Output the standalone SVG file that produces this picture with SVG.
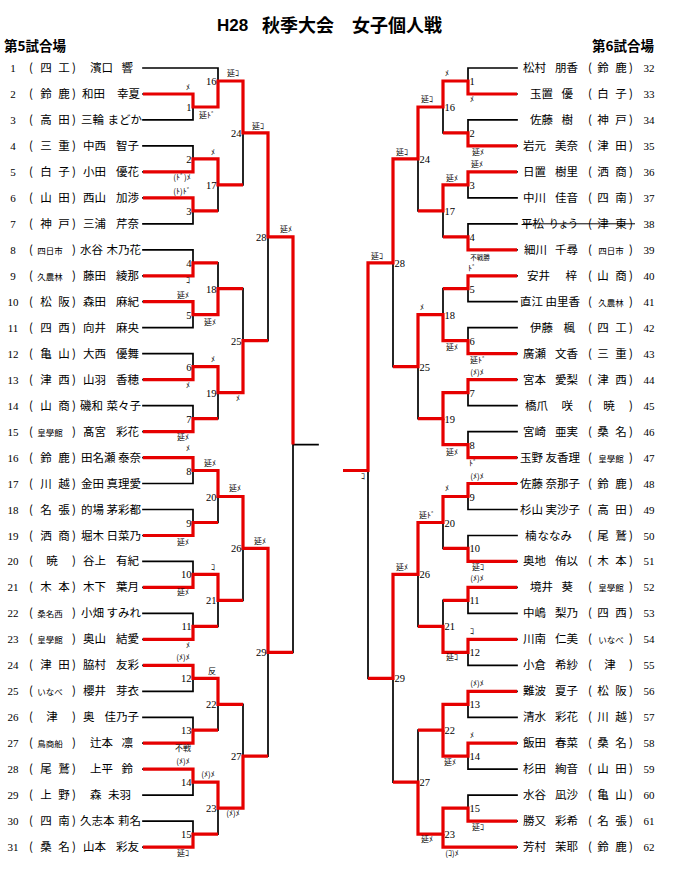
<svg xmlns="http://www.w3.org/2000/svg" width="677" height="879" viewBox="0 0 677 879">
<style>
text{font-family:"Noto Sans CJK JP","Noto Sans CJK SC",sans-serif;font-size:11.5px;fill:#000}
.c{text-anchor:middle}
.e{text-anchor:end}
.d{font-family:"Liberation Serif",serif;font-size:11px}
.s3{font-size:8.5px}
.b{fill:none;stroke:#000;stroke-width:1.7;stroke-linecap:square}
.r{fill:none;stroke:#e60000;stroke-width:3.2;stroke-linejoin:miter}
.h{font-size:18px;font-weight:bold}
.v{font-size:13.5px;font-weight:bold}
#nums text{font-family:"Liberation Serif",serif;font-size:10.5px}
#notes text{font-size:8px;text-anchor:middle}
.strike{stroke:#000;stroke-width:1}
</style>
<rect width="677" height="879" fill="#fff"/>
<g id="title">
<text x="217" y="31" style="font-family:'Liberation Sans',sans-serif;font-size:17px;font-weight:bold">H28</text>
<text class="h" x="262" y="32">秋季大会</text>
<text class="h" x="352" y="32">女子個人戦</text>
<text class="v" x="4" y="51">第5試合場</text>
<text class="v" x="592" y="51">第6試合場</text>
</g>
<g id="connectors">
<path class="b" d="M143 68H218M143 94H193M143 119.9H193M143 145.9H193M143 171.9H193M143 197.9H193M143 223.8H193M143 249.8H193M143 275.8H193M143 301.7H193M143 327.7H193M143 353.7H193M143 379.6H193M143 405.6H193M143 431.6H193M143 457.6H193M143 483.5H193M143 509.5H193M143 535.5H193M143 561.4H193M143 587.4H193M143 613.4H193M143 639.3H193M143 665.3H193M143 691.3H193M143 717.3H193M143 743.2H193M143 769.2H193M143 795.2H193M143 821.1H193M143 847.1H193
M193 94V119.9M193 145.9V171.9M193 197.9V223.8M193 249.8V275.8M193 301.7V327.7M193 353.7V379.6M193 405.6V431.6M193 457.6V483.5M193 509.5V535.5M193 561.4V587.4M193 613.4V639.3M193 665.3V691.3M193 717.3V743.2M193 769.2V795.2M193 821.1V847.1
M218 68V107M218 158.9V210.8M218 262.8V314.7M218 366.7V418.6M218 470.5V522.5M218 574.4V626.4M218 678.3V730.2M218 782.2V834.1
M243 81V184.9M243 288.7V392.6M243 496.5V600.4M243 704.3V808.1
M268 132.9V340.7M268 548.4V756.2
M293 236.8V652.3M293 444.6H318"/>
<path class="b" d="M517 68H468M517 94H468M517 119.9H468M517 145.9H468M517 171.9H468M517 197.9H468M517 223.8H468M517 249.8H468M517 275.8H468M517 301.7H468M517 327.7H468M517 353.7H468M517 379.6H468M517 405.6H468M517 431.6H468M517 457.6H468M517 483.5H468M517 509.5H468M517 535.5H468M517 561.4H468M517 587.4H468M517 613.4H468M517 639.3H468M517 665.3H468M517 691.3H468M517 717.3H468M517 743.2H468M517 769.2H468M517 795.2H468M517 821.1H468M517 847.1H443
M468 68V94M468 119.9V145.9M468 171.9V197.9M468 223.8V249.8M468 275.8V301.7M468 327.7V353.7M468 379.6V405.6M468 431.6V457.6M468 483.5V509.5M468 535.5V561.4M468 587.4V613.4M468 639.3V665.3M468 691.3V717.3M468 743.2V769.2M468 795.2V821.1
M443 81V132.9M443 184.9V236.8M443 288.7V340.7M443 392.6V444.6M443 496.5V548.4M443 600.4V652.3M443 704.3V756.2M443 808.1V847.1
M418 107V210.8M418 314.7V418.6M418 522.5V626.4M418 730.2V834.1
M393 158.9V366.7M393 574.4V782.2
M368 262.8V678.3"/>
<path class="r" d="M143 94H193V107H218V81H243V132.9H268V236.8H293V444.6"/>
<path class="r" d="M143 171.9H193V158.9H218V184.9H243"/>
<path class="r" d="M143 197.9H193V210.8H218"/>
<path class="r" d="M143 275.8H193V262.8H218"/>
<path class="r" d="M143 301.7H193V314.7H218V288.7H243"/>
<path class="r" d="M143 379.6H193V366.7H218V392.6H243V340.7H268"/>
<path class="r" d="M143 431.6H193V418.6H218"/>
<path class="r" d="M143 457.6H193V470.5H218V496.5H243V548.4H268V652.3H293"/>
<path class="r" d="M143 535.5H193V522.5H218"/>
<path class="r" d="M143 587.4H193V574.4H218V600.4H243"/>
<path class="r" d="M143 639.3H193V626.4H218"/>
<path class="r" d="M143 665.3H193V678.3H218V704.3H243"/>
<path class="r" d="M143 743.2H193V730.2H218"/>
<path class="r" d="M143 769.2H193V782.2H218V808.1H243V756.2H268"/>
<path class="r" d="M143 847.1H193V834.1H218"/>
<path class="r" d="M517 94H468V81H443V107H418V158.9H393V262.8H368V470.5H343"/>
<path class="r" d="M517 145.9H468V132.9H443"/>
<path class="r" d="M517 171.9H468V184.9H443V210.8H418"/>
<path class="r" d="M517 249.8H468V236.8H443"/>
<path class="r" d="M517 275.8H468V288.7H443"/>
<path class="r" d="M517 353.7H468V340.7H443V314.7H418V366.7H393"/>
<path class="r" d="M517 379.6H468V392.6H443V418.6H418"/>
<path class="r" d="M517 457.6H468V444.6H443V418.6"/>
<path class="r" d="M517 483.5H468V496.5H443V522.5H418V574.4H393V678.3H368"/>
<path class="r" d="M517 561.4H468V548.4H443"/>
<path class="r" d="M517 587.4H468V600.4H443"/>
<path class="r" d="M517 639.3H468V652.3H443V626.4H418"/>
<path class="r" d="M517 691.3H468V704.3H443V730.2H418"/>
<path class="r" d="M517 743.2H468V756.2H443V730.2"/>
<path class="r" d="M517 821.1H468V808.1H443V834.1H418V782.2H393"/>
<path class="r" d="M517 847.1H443V834.1"/>
<line class="strike" x1="523" y1="223.8" x2="635" y2="223.8"/>
</g>
<g id="nums">
<text class="e" x="191.5" y="111">1</text><text class="e" x="191.5" y="163">2</text><text class="e" x="191.5" y="215">3</text><text class="e" x="191.5" y="267">4</text><text class="e" x="191.5" y="319">5</text><text class="e" x="191.5" y="371">6</text><text class="e" x="191.5" y="423">7</text><text class="e" x="191.5" y="474.5">8</text><text class="e" x="191.5" y="526.5">9</text><text class="e" x="191.5" y="578.4">10</text><text class="e" x="191.5" y="630.4">11</text><text class="e" x="191.5" y="682.3">12</text><text class="e" x="191.5" y="734.2">13</text><text class="e" x="191.5" y="786.2">14</text><text class="e" x="191.5" y="838.1">15</text>
<text class="e" x="216.5" y="85">16</text><text class="e" x="216.5" y="189">17</text><text class="e" x="216.5" y="292.7">18</text><text class="e" x="216.5" y="396.6">19</text><text class="e" x="216.5" y="500.5">20</text><text class="e" x="216.5" y="604.4">21</text><text class="e" x="216.5" y="708.3">22</text><text class="e" x="216.5" y="812.1">23</text>
<text class="e" x="241.5" y="137">24</text><text class="e" x="241.5" y="344.7">25</text><text class="e" x="241.5" y="552.4">26</text><text class="e" x="241.5" y="760.2">27</text>
<text class="e" x="266.5" y="240.8">28</text><text class="e" x="266.5" y="656.3">29</text>
<text x="469.5" y="85">1</text><text x="469.5" y="137">2</text><text x="469.5" y="189">3</text><text x="469.5" y="241">4</text><text x="469.5" y="293">5</text><text x="469.5" y="345">6</text><text x="469.5" y="397">7</text><text x="469.5" y="449">8</text><text x="469.5" y="500.5">9</text><text x="469.5" y="552.4">10</text><text x="469.5" y="604.4">11</text><text x="469.5" y="656.3">12</text><text x="469.5" y="708.3">13</text><text x="469.5" y="760.2">14</text><text x="469.5" y="812.1">15</text>
<text x="444.5" y="111">16</text><text x="444.5" y="215">17</text><text x="444.5" y="319">18</text><text x="444.5" y="423">19</text><text x="444.5" y="526.5">20</text><text x="444.5" y="630.4">21</text><text x="444.5" y="734.2">22</text><text x="444.5" y="838.1">23</text>
<text x="419.5" y="163">24</text><text x="419.5" y="371">25</text><text x="419.5" y="578.4">26</text><text x="419.5" y="786.2">27</text>
<text x="394.5" y="267">28</text><text x="394.5" y="682.3">29</text>
</g>
<g id="notes">
<text x="188" y="90">ﾒ</text><text x="207" y="118">延ﾄﾞ</text><text x="233" y="76">延ｺ</text><text x="258" y="129">延ｺ</text><text x="213" y="155">ﾒ</text><text x="182" y="180">(ﾄﾞ)ﾒ</text><text x="182" y="194">(ﾄ)ﾄﾞ</text><text x="286" y="232">延ﾒ</text><text x="188" y="283">ｺ</text><text x="183" y="298">延ﾒ</text><text x="210" y="325">延ﾒ</text><text x="213" y="362">ﾒ</text><text x="188" y="388">ﾒ</text><text x="238" y="401">ﾒ</text><text x="183" y="440">延ﾒ</text><text x="188" y="451">ﾒ</text><text x="210" y="466">延ﾒ</text><text x="235" y="491">延ﾒ</text><text x="183" y="545">延ﾒ</text><text x="260" y="544">延ﾒ</text><text x="213" y="570">ｺ</text><text x="183" y="595">延ﾒ</text><text x="188" y="648">ﾒ</text><text x="183" y="660">(ﾒ)ﾒ</text><text x="212" y="674">反</text><text x="183" y="751">不戦</text><text x="183" y="764">(ﾒ)ﾒ</text><text x="208" y="777">(ﾒ)ﾒ</text><text x="233" y="816">(ﾒ)ﾒ</text><text x="183" y="856">延ｺ</text>
<text x="447" y="76">ﾒ</text><text x="472" y="102">ﾒ</text><text x="427" y="102">延ｺ</text><text x="478" y="155">延ﾒ</text><text x="402" y="155">延ｺ</text><text x="477" y="167">延ﾒ</text><text x="452" y="181">延ﾒ</text><text x="480" y="260" style="font-size:6.5px">不戦勝</text><text x="377" y="259">延ｺ</text><text x="472" y="271">ﾄﾞ</text><text x="422" y="310">ﾒ</text><text x="452" y="350">延ﾒ</text><text x="478" y="363">延ﾄﾞ</text><text x="477" y="375">(ﾒ)ﾒ</text><text x="452" y="455">延ﾒ</text><text x="473" y="466">ﾄﾞ</text><text x="363" y="479">ｺ</text><text x="477" y="479">(ﾒ)ﾒ</text><text x="447" y="491">ﾒ</text><text x="427" y="518">延ﾄﾞ</text><text x="402" y="570">延ﾒ</text><text x="478" y="570">延ｺ</text><text x="477" y="581">(ﾒ)ﾒ</text><text x="472" y="634">ｺ</text><text x="452" y="660">延ｺ</text><text x="477" y="686">(ﾒ)ﾒ</text><text x="472" y="738">ﾒ</text><text x="450" y="765">延ﾒ</text><text x="478" y="830">延ｺ</text><text x="427" y="842">延ﾒ</text><text x="452" y="856">(ｺ)ﾒ</text>
</g>
<g id="left-players">
<g id="p1" transform="translate(0,68)"><text class="d c" x="13" y="4">1</text><text class="c" x="31 46 64 74" y="4">(四工)</text><text x="90" y="4">濱口</text><text class="e" x="133" y="4">響</text></g>
<g id="p2" transform="translate(0,94)"><text class="d c" x="13" y="4">2</text><text class="c" x="31 46 64 74" y="4">(鈴鹿)</text><text x="82" y="4">和田</text><text class="e" x="140" y="4">幸夏</text></g>
<g id="p3" transform="translate(0,119.9)"><text class="d c" x="13" y="4">3</text><text class="c" x="31 46 64 74" y="4">(高田)</text><text x="81" y="4">三輪</text><text class="e" x="142" y="4">まどか</text></g>
<g id="p4" transform="translate(0,145.9)"><text class="d c" x="13" y="4">4</text><text class="c" x="31 46 64 74" y="4">(三重)</text><text x="83" y="4">中西</text><text class="e" x="139" y="4">智子</text></g>
<g id="p5" transform="translate(0,171.9)"><text class="d c" x="13" y="4">5</text><text class="c" x="31 46 64 74" y="4">(白子)</text><text x="83" y="4">小田</text><text class="e" x="139" y="4">優花</text></g>
<g id="p6" transform="translate(0,197.9)"><text class="d c" x="13" y="4">6</text><text class="c" x="31 46 64 74" y="4">(山田)</text><text x="83" y="4">西山</text><text class="e" x="139" y="4">加渉</text></g>
<g id="p7" transform="translate(0,223.8)"><text class="d c" x="13" y="4">7</text><text class="c" x="31 46 64 74" y="4">(神戸)</text><text x="83" y="4">三浦</text><text class="e" x="139" y="4">芹奈</text></g>
<g id="p8" transform="translate(0,249.8)"><text class="d c" x="13" y="4">8</text><text class="c" x="31" y="4">(<tspan class="s3" x="50">四日市</tspan><tspan x="74">)</tspan></text><text x="80" y="4">水谷</text><text class="e" x="141" y="4">木乃花</text></g>
<g id="p9" transform="translate(0,275.8)"><text class="d c" x="13" y="4">9</text><text class="c" x="31" y="4">(<tspan class="s3" x="50">久農林</tspan><tspan x="74">)</tspan></text><text x="83" y="4">藤田</text><text class="e" x="139" y="4">綾那</text></g>
<g id="p10" transform="translate(0,301.7)"><text class="d c" x="13" y="4">10</text><text class="c" x="31 46 64 74" y="4">(松阪)</text><text x="83" y="4">森田</text><text class="e" x="139" y="4">麻紀</text></g>
<g id="p11" transform="translate(0,327.7)"><text class="d c" x="13" y="4">11</text><text class="c" x="31 46 64 74" y="4">(四西)</text><text x="83" y="4">向井</text><text class="e" x="139" y="4">麻央</text></g>
<g id="p12" transform="translate(0,353.7)"><text class="d c" x="13" y="4">12</text><text class="c" x="31 46 64 74" y="4">(亀山)</text><text x="83" y="4">大西</text><text class="e" x="139" y="4">優舞</text></g>
<g id="p13" transform="translate(0,379.6)"><text class="d c" x="13" y="4">13</text><text class="c" x="31 46 64 74" y="4">(津西)</text><text x="83" y="4">山羽</text><text class="e" x="139" y="4">香穂</text></g>
<g id="p14" transform="translate(0,405.6)"><text class="d c" x="13" y="4">14</text><text class="c" x="31 46 64 74" y="4">(山商)</text><text x="80" y="4">磯和</text><text class="e" x="141" y="4">菜々子</text></g>
<g id="p15" transform="translate(0,431.6)"><text class="d c" x="13" y="4">15</text><text class="c" x="31" y="4">(<tspan class="s3" x="50">皇學館</tspan><tspan x="74">)</tspan></text><text x="83" y="4">髙宮</text><text class="e" x="139" y="4">彩花</text></g>
<g id="p16" transform="translate(0,457.6)"><text class="d c" x="13" y="4">16</text><text class="c" x="31 46 64 74" y="4">(鈴鹿)</text><text x="81" y="4">田名瀬</text><text class="e" x="141" y="4">泰奈</text></g>
<g id="p17" transform="translate(0,483.5)"><text class="d c" x="13" y="4">17</text><text class="c" x="31 46 64 74" y="4">(川越)</text><text x="81" y="4">金田</text><text class="e" x="141" y="4">真理愛</text></g>
<g id="p18" transform="translate(0,509.5)"><text class="d c" x="13" y="4">18</text><text class="c" x="31 46 64 74" y="4">(名張)</text><text x="81" y="4">的場</text><text class="e" x="141" y="4">茅彩都</text></g>
<g id="p19" transform="translate(0,535.5)"><text class="d c" x="13" y="4">19</text><text class="c" x="31 46 64 74" y="4">(洒商)</text><text x="81" y="4">堀木</text><text class="e" x="141" y="4">日菜乃</text></g>
<g id="p20" transform="translate(0,561.4)"><text class="d c" x="13" y="4">20</text><text class="c" x="31 52 74" y="4">(暁)</text><text x="83" y="4">谷上</text><text class="e" x="139" y="4">有紀</text></g>
<g id="p21" transform="translate(0,587.4)"><text class="d c" x="13" y="4">21</text><text class="c" x="31 46 64 74" y="4">(木本)</text><text x="83" y="4">木下</text><text class="e" x="139" y="4">葉月</text></g>
<g id="p22" transform="translate(0,613.4)"><text class="d c" x="13" y="4">22</text><text class="c" x="31" y="4">(<tspan class="s3" x="50">桑名西</tspan><tspan x="74">)</tspan></text><text x="81" y="4">小畑</text><text class="e" x="141" y="4">すみれ</text></g>
<g id="p23" transform="translate(0,639.3)"><text class="d c" x="13" y="4">23</text><text class="c" x="31" y="4">(<tspan class="s3" x="50">皇學館</tspan><tspan x="74">)</tspan></text><text x="83" y="4">奥山</text><text class="e" x="139" y="4">結愛</text></g>
<g id="p24" transform="translate(0,665.3)"><text class="d c" x="13" y="4">24</text><text class="c" x="31 46 64 74" y="4">(津田)</text><text x="83" y="4">脇村</text><text class="e" x="139" y="4">友彩</text></g>
<g id="p25" transform="translate(0,691.3)"><text class="d c" x="13" y="4">25</text><text class="c" x="31" y="4">(<tspan class="s3" x="50">いなべ</tspan><tspan x="74">)</tspan></text><text x="83" y="4">櫻井</text><text class="e" x="139" y="4">芽衣</text></g>
<g id="p26" transform="translate(0,717.3)"><text class="d c" x="13" y="4">26</text><text class="c" x="31 52 74" y="4">(津)</text><text x="83" y="4">奥</text><text class="e" x="139" y="4">佳乃子</text></g>
<g id="p27" transform="translate(0,743.2)"><text class="d c" x="13" y="4">27</text><text class="c" x="31" y="4">(<tspan class="s3" x="50">鳥商船</tspan><tspan x="74">)</tspan></text><text x="90" y="4">辻本</text><text class="e" x="133" y="4">凛</text></g>
<g id="p28" transform="translate(0,769.2)"><text class="d c" x="13" y="4">28</text><text class="c" x="31 46 64 74" y="4">(尾鷲)</text><text x="90" y="4">上平</text><text class="e" x="133" y="4">鈴</text></g>
<g id="p29" transform="translate(0,795.2)"><text class="d c" x="13" y="4">29</text><text class="c" x="31 46 64 74" y="4">(上野)</text><text x="90" y="4">森</text><text class="e" x="131" y="4">未羽</text></g>
<g id="p30" transform="translate(0,821.1)"><text class="d c" x="13" y="4">30</text><text class="c" x="31 46 64 74" y="4">(四南)</text><text x="80" y="4">久志本</text><text class="e" x="141" y="4">莉名</text></g>
<g id="p31" transform="translate(0,847.1)"><text class="d c" x="13" y="4">31</text><text class="c" x="31 46 64 74" y="4">(桑名)</text><text x="83" y="4">山本</text><text class="e" x="139" y="4">彩友</text></g>
</g>
<g id="right-players">
<g id="p32" transform="translate(0,68)"><text x="523" y="4">松村</text><text class="e" x="578" y="4">朋香</text><text class="c" x="590 603 621 631" y="4">(鈴鹿)</text><text class="d c" x="649" y="4">32</text></g>
<g id="p33" transform="translate(0,94)"><text x="530" y="4">玉置</text><text class="e" x="573" y="4">優</text><text class="c" x="590 603 621 631" y="4">(白子)</text><text class="d c" x="649" y="4">33</text></g>
<g id="p34" transform="translate(0,119.9)"><text x="530" y="4">佐藤</text><text class="e" x="573" y="4">樹</text><text class="c" x="590 603 621 631" y="4">(神戸)</text><text class="d c" x="649" y="4">34</text></g>
<g id="p35" transform="translate(0,145.9)"><text x="523" y="4">岩元</text><text class="e" x="578" y="4">美奈</text><text class="c" x="590 603 621 631" y="4">(津田)</text><text class="d c" x="649" y="4">35</text></g>
<g id="p36" transform="translate(0,171.9)"><text x="523" y="4">日置</text><text class="e" x="578" y="4">樹里</text><text class="c" x="590 603 621 631" y="4">(洒商)</text><text class="d c" x="649" y="4">36</text></g>
<g id="p37" transform="translate(0,197.9)"><text x="523" y="4">中川</text><text class="e" x="578" y="4">佳音</text><text class="c" x="590 603 621 631" y="4">(四南)</text><text class="d c" x="649" y="4">37</text></g>
<g id="p38" transform="translate(0,223.8)"><text x="521" y="4">平松</text><text x="549" y="4" textLength="29" lengthAdjust="spacingAndGlyphs">りょう</text><text class="c" x="590 603 621 631" y="4">(津東)</text><text class="d c" x="649" y="4">38</text></g>
<g id="p39" transform="translate(0,249.8)"><text x="524" y="4">細川</text><text class="e" x="578" y="4">千尋</text><text class="c" x="590" y="4">(<tspan class="s3" x="611">四日市</tspan><tspan x="631">)</tspan></text><text class="d c" x="649" y="4">39</text></g>
<g id="p40" transform="translate(0,275.8)"><text x="527" y="4">安井</text><text class="e" x="577" y="4">梓</text><text class="c" x="590 603 621 631" y="4">(山商)</text><text class="d c" x="649" y="4">40</text></g>
<g id="p41" transform="translate(0,301.7)"><text x="520" y="4">直江</text><text class="e" x="580" y="4">由里香</text><text class="c" x="590" y="4">(<tspan class="s3" x="611">久農林</tspan><tspan x="631">)</tspan></text><text class="d c" x="649" y="4">41</text></g>
<g id="p42" transform="translate(0,327.7)"><text x="530" y="4">伊藤</text><text class="e" x="575" y="4">楓</text><text class="c" x="590 603 621 631" y="4">(四工)</text><text class="d c" x="649" y="4">42</text></g>
<g id="p43" transform="translate(0,353.7)"><text x="523" y="4">廣瀬</text><text class="e" x="578" y="4">文香</text><text class="c" x="590 603 621 631" y="4">(三重)</text><text class="d c" x="649" y="4">43</text></g>
<g id="p44" transform="translate(0,379.6)"><text x="523" y="4">宮本</text><text class="e" x="578" y="4">愛梨</text><text class="c" x="590 603 621 631" y="4">(津西)</text><text class="d c" x="649" y="4">44</text></g>
<g id="p45" transform="translate(0,405.6)"><text x="525" y="4">橋爪</text><text class="e" x="573" y="4">咲</text><text class="c" x="590 609 631" y="4">(暁)</text><text class="d c" x="649" y="4">45</text></g>
<g id="p46" transform="translate(0,431.6)"><text x="523" y="4">宮崎</text><text class="e" x="578" y="4">亜実</text><text class="c" x="590 603 621 631" y="4">(桑名)</text><text class="d c" x="649" y="4">46</text></g>
<g id="p47" transform="translate(0,457.6)"><text x="520" y="4">玉野</text><text class="e" x="580" y="4">友香理</text><text class="c" x="590" y="4">(<tspan class="s3" x="611">皇學館</tspan><tspan x="631">)</tspan></text><text class="d c" x="649" y="4">47</text></g>
<g id="p48" transform="translate(0,483.5)"><text x="520" y="4">佐藤</text><text class="e" x="580" y="4">奈那子</text><text class="c" x="590 603 621 631" y="4">(鈴鹿)</text><text class="d c" x="649" y="4">48</text></g>
<g id="p49" transform="translate(0,509.5)"><text x="520" y="4">杉山</text><text class="e" x="580" y="4">実沙子</text><text class="c" x="590 603 621 631" y="4">(高田)</text><text class="d c" x="649" y="4">49</text></g>
<g id="p50" transform="translate(0,535.5)"><text x="525" y="4">楠</text><text class="e" x="572" y="4">ななみ</text><text class="c" x="590 603 621 631" y="4">(尾鷲)</text><text class="d c" x="649" y="4">50</text></g>
<g id="p51" transform="translate(0,561.4)"><text x="523" y="4">奥地</text><text class="e" x="578" y="4">侑以</text><text class="c" x="590 603 621 631" y="4">(木本)</text><text class="d c" x="649" y="4">51</text></g>
<g id="p52" transform="translate(0,587.4)"><text x="530" y="4">境井</text><text class="e" x="573" y="4">葵</text><text class="c" x="590" y="4">(<tspan class="s3" x="611">皇學館</tspan><tspan x="631">)</tspan></text><text class="d c" x="649" y="4">52</text></g>
<g id="p53" transform="translate(0,613.4)"><text x="523" y="4">中嶋</text><text class="e" x="578" y="4">梨乃</text><text class="c" x="590 603 621 631" y="4">(四西)</text><text class="d c" x="649" y="4">53</text></g>
<g id="p54" transform="translate(0,639.3)"><text x="523" y="4">川南</text><text class="e" x="578" y="4">仁美</text><text class="c" x="590" y="4">(<tspan class="s3" x="611">いなべ</tspan><tspan x="631">)</tspan></text><text class="d c" x="649" y="4">54</text></g>
<g id="p55" transform="translate(0,665.3)"><text x="523" y="4">小倉</text><text class="e" x="578" y="4">希紗</text><text class="c" x="590 610 631" y="4">(津)</text><text class="d c" x="649" y="4">55</text></g>
<g id="p56" transform="translate(0,691.3)"><text x="523" y="4">難波</text><text class="e" x="578" y="4">夏子</text><text class="c" x="590 603 621 631" y="4">(松阪)</text><text class="d c" x="649" y="4">56</text></g>
<g id="p57" transform="translate(0,717.3)"><text x="523" y="4">清水</text><text class="e" x="578" y="4">彩花</text><text class="c" x="590 603 621 631" y="4">(川越)</text><text class="d c" x="649" y="4">57</text></g>
<g id="p58" transform="translate(0,743.2)"><text x="523" y="4">飯田</text><text class="e" x="578" y="4">春菜</text><text class="c" x="590 603 621 631" y="4">(桑名)</text><text class="d c" x="649" y="4">58</text></g>
<g id="p59" transform="translate(0,769.2)"><text x="523" y="4">杉田</text><text class="e" x="578" y="4">絢音</text><text class="c" x="590 603 621 631" y="4">(山田)</text><text class="d c" x="649" y="4">59</text></g>
<g id="p60" transform="translate(0,795.2)"><text x="523" y="4">水谷</text><text class="e" x="578" y="4">凪沙</text><text class="c" x="590 603 621 631" y="4">(亀山)</text><text class="d c" x="649" y="4">60</text></g>
<g id="p61" transform="translate(0,821.1)"><text x="523" y="4">勝又</text><text class="e" x="578" y="4">彩希</text><text class="c" x="590 603 621 631" y="4">(名張)</text><text class="d c" x="649" y="4">61</text></g>
<g id="p62" transform="translate(0,847.1)"><text x="523" y="4">芳村</text><text class="e" x="578" y="4">茉耶</text><text class="c" x="590 603 621 631" y="4">(鈴鹿)</text><text class="d c" x="649" y="4">62</text></g>
</g>
</svg>
